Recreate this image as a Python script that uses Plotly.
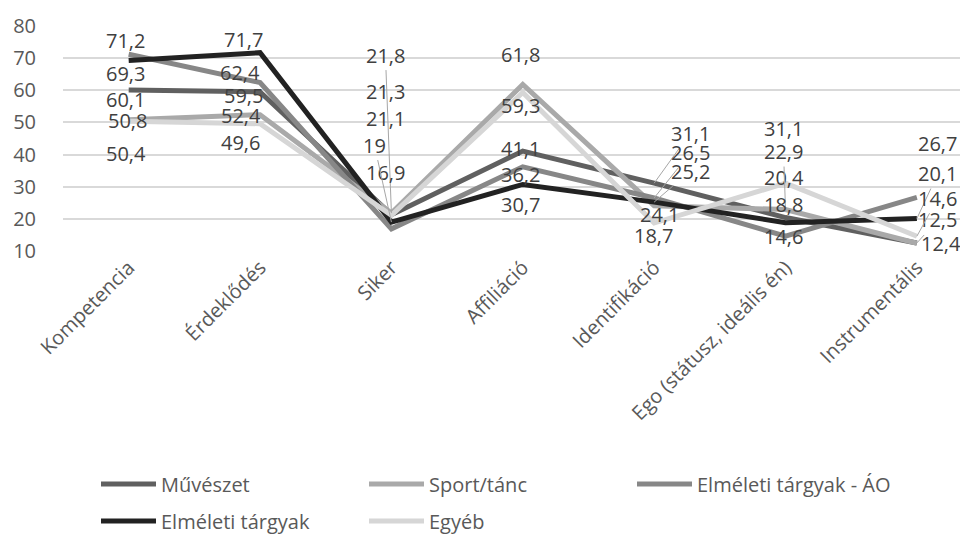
import plotly.graph_objects as go

# ---------------- data ----------------
categories = ["Kompetencia", "Érdeklődés", "Siker", "Affiliáció",
              "Identifikáció", "Ego (státusz, ideális én)", "Instrumentális"]

muveszet = [60.1, 59.5, 21.3, 41.1, 31.1, 20.4, 12.5]
sport_tanc = [50.8, 52.4, 21.8, 61.8, 24.1, 22.9, 12.4]
elmeleti_ao = [71.2, 62.4, 16.9, 36.2, 26.5, 14.6, 26.7]
elmeleti = [69.3, 71.7, 19.0, 30.7, 25.2, 18.8, 20.1]
egyeb = [50.4, 49.6, 21.1, 59.3, 18.7, 31.1, 14.6]

series_names = ["Művészet", "Sport/tánc", "Elméleti tárgyak - ÁO",
                "Elméleti tárgyak", "Egyéb"]
series_values = [muveszet, sport_tanc, elmeleti_ao, elmeleti, egyeb]

y_ticks = [10, 20, 30, 40, 50, 60, 70, 80]

# ---------------- styles ----------------
colors = ["#606060", "#a9a9a9", "#878787", "#222222", "#d6d6d6"]
legend_ids = ["legend", "legend", "legend", "legend2", "legend2"]
FONT = "Open Sans, Calibri, Carlito, sans-serif"

# label offsets in px (dx right, dy down) relative to each point, and leader flags
label_dx = [
    [-3, -17, -6, -2, 36, -2, 21],
    [-1, -19, -6, -2, 5, -2, 24],
    [-3, -20, -6, -2, 36, -2, 21],
    [-3, -17, -17, -2, 36, -2, 21],
    [-3, -20, -6, -2, -1, -2, 21],
]
label_dy = [
    [10, 4, -123, -3, -50, -40, -23],
    [1, 1, -158, -30, 9, -58, 0],
    [-14, -10, -56, 8, -45, 0, -54],
    [13, -13, -77, 20, -31, -18, -45],
    [32, 19, -97, 13, 12, -55, -38],
]
leaders = [
    [0, 0, 0, 0, 1, 0, 1],
    [0, 0, 1, 0, 0, 1, 0],
    [0, 0, 0, 0, 1, 0, 0],
    [0, 0, 1, 0, 1, 0, 1],
    [0, 0, 0, 0, 0, 0, 1],
]


def fmt(v):
    return ("%g" % v).replace(".", ",")


fig = go.Figure()
for name, vals, col, lg in zip(series_names, series_values, colors, legend_ids):
    fig.add_trace(go.Scatter(
        x=categories, y=vals, name=name, mode="lines",
        line=dict(color=col, width=5),
        legend=lg,
    ))

annotations = []
for si, vals in enumerate(series_values):
    for ci, v in enumerate(vals):
        lead = leaders[si][ci]
        annotations.append(dict(
            x=categories[ci], y=v, xref="x", yref="y",
            text=fmt(v), showarrow=True,
            ax=label_dx[si][ci], ay=label_dy[si][ci],
            arrowhead=0, arrowwidth=1, standoff=0,
            arrowcolor="#a6a6a6" if lead else "rgba(0,0,0,0)",
            font=dict(family=FONT, size=20, color="#404040"),
        ))

legend_common = dict(
    orientation="h", xref="container", yref="container",
    xanchor="left", yanchor="middle",
    entrywidth=198, entrywidthmode="pixels", itemwidth=55,
    font=dict(family=FONT, size=20, color="#595959"),
    bgcolor="rgba(0,0,0,0)", tracegroupgap=0,
)

fig.update_layout(
    width=968, height=536,
    margin=dict(l=55, r=0, t=18, b=293, autoexpand=False),
    paper_bgcolor="white", plot_bgcolor="white",
    font=dict(family=FONT, size=20, color="#595959"),
    showlegend=True,
    annotations=annotations,
    xaxis=dict(
        type="category", range=[-0.5, 6.45], automargin=False,
        showgrid=False, zeroline=False, showline=False,
        tickangle=-45, ticks="",
        tickfont=dict(family=FONT, size=20, color="#595959"),
    ),
    yaxis=dict(
        range=[10, 80], tickvals=y_ticks, automargin=False,
        showgrid=True, gridcolor="#d9d9d9", gridwidth=1.5,
        zeroline=False, showline=False,
        ticks="outside", ticklen=22, tickcolor="rgba(0,0,0,0)",
        tickfont=dict(family=FONT, size=20, color="#595959"),
    ),
    legend=dict(legend_common, x=88 / 968, y=1 - 476 / 536),
    legend2=dict(legend_common, x=88 / 968, y=1 - 513 / 536),
)

fig.write_html("out.html")
